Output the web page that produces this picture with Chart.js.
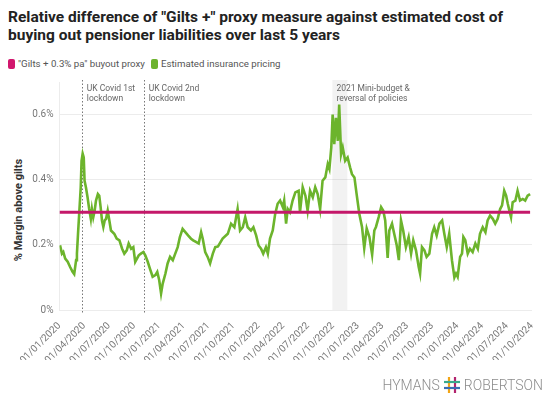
<!DOCTYPE html>
<html>
<head>
<meta charset="utf-8">
<script src="https://cdn.jsdelivr.net/npm/chart.js@4.4.1/dist/chart.umd.min.js"></script>
<style>
html,body{margin:0;padding:0;background:#fff;}
body{width:548px;height:397px;position:relative;overflow:hidden;font-family:Roboto,"Noto Sans",sans-serif;}
#title{position:absolute;left:8px;top:8px;width:515px;font-size:15.5px;font-weight:700;line-height:18px;color:#222;}
#legend{position:absolute;left:8px;top:58px;font-size:9.7px;color:#555;display:flex;align-items:center;white-space:nowrap;}
#legend .sw{display:inline-block;width:7px;height:10px;border-radius:2px;margin-right:3px;}
#legend .item{display:flex;align-items:center;margin-right:6px;}
#ytitle{position:absolute;left:18px;top:210px;transform:translate(-50%,-50%) rotate(-90deg);font-size:11px;font-weight:700;color:#333;white-space:nowrap;}
#wrap{position:absolute;left:0;top:70px;width:548px;height:327px;}
#logo{position:absolute;right:5px;top:376px;height:18px;display:flex;align-items:center;font-size:14px;font-weight:300;color:#8c8c8c;}
#logo svg{margin:0 4px;}
</style>
</head>
<body>
<div id="title">Relative difference of "Gilts +" proxy measure against estimated cost of buying out pensioner liabilities over last 5 years</div>
<div id="legend">
  <span class="item"><span class="sw" style="background:#d1176d"></span>"Gilts + 0.3% pa" buyout proxy</span>
  <span class="item"><span class="sw" style="background:#6db32e"></span>Estimated insurance pricing</span>
</div>
<div id="ytitle">% Margin above gilts</div>
<div id="wrap"><canvas id="chart"></canvas></div>
<div id="logo"><span>HYMANS</span><svg width="16" height="16" viewBox="0 0 16 16"><line x1="5" y1="0" x2="5" y2="16" stroke="#f2a516" stroke-width="2.2"/><line x1="11" y1="0" x2="11" y2="16" stroke="#b2236e" stroke-width="2.2"/><line x1="0" y1="5" x2="16" y2="5" stroke="#3aa98c" stroke-width="2.2"/><line x1="0" y1="11" x2="16" y2="11" stroke="#3b6db3" stroke-width="2.2"/></svg><span>ROBERTSON</span></div>
<script>
// ----- data -----
const pricingDates = [
  "2020-01-03","2020-01-10","2020-01-15","2020-01-22","2020-01-31","2020-02-09","2020-02-18","2020-02-24","2020-03-02","2020-03-05","2020-03-09","2020-03-14","2020-03-19","2020-03-22","2020-03-26","2020-03-30","2020-04-02","2020-04-07","2020-04-13","2020-04-19","2020-04-25","2020-04-29","2020-05-04","2020-05-09","2020-05-14","2020-05-21","2020-05-26","2020-05-31","2020-06-05","2020-06-10","2020-06-15","2020-06-20","2020-06-26","2020-07-02","2020-07-08","2020-07-20","2020-07-29","2020-08-08","2020-08-18","2020-08-26","2020-09-04","2020-09-11","2020-09-20","2020-09-28","2020-10-05","2020-10-18","2020-10-26","2020-11-04","2020-11-11","2020-11-20","2020-11-28","2020-12-08","2020-12-18","2020-12-25",
  "2021-01-01","2021-01-08","2021-01-14","2021-01-24","2021-02-01","2021-02-10","2021-02-20","2021-03-01","2021-03-10","2021-03-18","2021-03-28","2021-04-07","2021-04-17","2021-04-28","2021-05-06","2021-05-16","2021-05-26","2021-06-04","2021-06-10","2021-06-19","2021-06-28","2021-07-07","2021-07-17","2021-07-26","2021-08-05","2021-08-22","2021-09-10","2021-09-22","2021-10-04","2021-10-16","2021-10-25","2021-11-04","2021-11-13","2021-11-22","2021-12-04","2021-12-13","2021-12-23",
  "2022-01-01","2022-01-10","2022-01-18","2022-01-28","2022-02-04","2022-02-12","2022-02-22","2022-03-03","2022-03-12","2022-03-21","2022-03-31","2022-04-05","2022-04-12","2022-04-18","2022-04-26","2022-05-06","2022-05-16","2022-05-28","2022-06-02","2022-06-12","2022-06-22","2022-06-30","2022-07-09","2022-07-19","2022-07-28","2022-08-06","2022-08-15","2022-08-24","2022-09-03","2022-09-12","2022-09-18","2022-09-25","2022-09-30","2022-10-06","2022-10-12","2022-10-19","2022-10-24","2022-10-31","2022-11-06","2022-11-15","2022-11-24","2022-12-03","2022-12-10","2022-12-19","2022-12-27",
  "2023-01-06","2023-01-16","2023-01-24","2023-02-02","2023-02-12","2023-02-22","2023-03-02","2023-03-08","2023-03-18","2023-03-27","2023-04-04","2023-04-11","2023-04-20","2023-04-26","2023-05-06","2023-05-14","2023-05-23","2023-05-31","2023-06-08","2023-06-16","2023-06-26","2023-07-06","2023-07-15","2023-07-23","2023-08-02","2023-08-12","2023-08-17","2023-08-24","2023-09-02","2023-09-10","2023-09-20","2023-09-30","2023-10-08","2023-10-17","2023-10-27","2023-11-06","2023-11-14","2023-11-23","2023-12-02","2023-12-12","2023-12-21","2023-12-27",
  "2024-01-02","2024-01-11","2024-01-18","2024-01-23","2024-01-30","2024-02-08","2024-02-16","2024-02-26","2024-03-07","2024-03-16","2024-03-24","2024-04-03","2024-04-13","2024-04-21","2024-04-30","2024-05-10","2024-05-19","2024-05-28","2024-06-06","2024-06-13","2024-06-21","2024-06-28","2024-07-04","2024-07-10","2024-07-16","2024-07-22","2024-08-01","2024-08-09","2024-08-18","2024-08-28","2024-09-06","2024-09-15","2024-09-24"
];
const pricingValues = [
  0.199,0.173,0.178,0.158,0.148,0.132,0.117,0.110,0.153,0.173,0.234,0.305,0.377,0.458,0.480,0.468,0.397,0.377,0.346,0.310,0.280,0.310,0.285,0.305,0.336,0.356,0.351,0.316,0.275,0.255,0.275,0.280,0.305,0.275,0.244,0.234,0.219,0.214,0.188,0.173,0.183,0.204,0.188,0.193,0.148,0.168,0.173,0.178,0.168,0.148,0.127,0.102,0.107,0.117,
  0.092,0.051,0.081,0.112,0.143,0.163,0.153,0.173,0.193,0.224,0.249,0.239,0.229,0.219,0.214,0.209,0.204,0.239,0.219,0.178,0.163,0.143,0.173,0.193,0.195,0.219,0.234,0.265,0.254,0.310,0.244,0.254,0.285,0.254,0.244,0.254,0.229,
  0.198,0.188,0.173,0.193,0.173,0.219,0.244,0.295,0.326,0.336,0.316,0.336,0.265,0.310,0.300,0.336,0.361,0.366,0.300,0.377,0.351,0.305,0.366,0.346,0.377,0.356,0.310,0.397,0.407,0.448,0.433,0.499,0.600,0.509,0.590,0.519,0.631,0.478,0.499,0.458,0.468,0.438,0.417,0.407,0.356,
  0.295,0.254,0.190,0.250,0.224,0.170,0.244,0.255,0.285,0.316,0.305,0.275,0.160,0.244,0.265,0.234,0.200,0.153,0.275,0.244,0.193,0.224,0.173,0.214,0.183,0.132,0.112,0.193,0.183,0.163,0.173,0.234,0.254,0.229,0.265,0.275,0.234,0.193,0.234,0.153,0.100,0.112,
  0.102,0.163,0.173,0.224,0.214,0.173,0.188,0.178,0.204,0.188,0.234,0.254,0.239,0.275,0.290,0.280,0.265,0.280,0.310,0.321,0.366,0.351,0.326,0.305,0.285,0.331,0.336,0.366,0.336,0.341,0.336,0.351,0.356
];
const proxyDates = ["2020-01-01","2024-09-24"];
const proxyValues = [0.3, 0.3];

const xTickLabels = ["01/01/2020","01/04/2020","01/07/2020","01/10/2020","01/01/2021","01/04/2021","01/07/2021","01/10/2021","01/01/2022","01/04/2022","01/07/2022","01/10/2022","01/01/2023","01/04/2023","01/07/2023","01/10/2023","01/01/2024","01/04/2024","01/07/2024","01/10/2024"];
const yTicks = [0, 0.2, 0.4, 0.6];

const eventDates = ["2020-03-23","2020-11-05"];
const eventLabels = [["UK Covid 1st","lockdown"],["UK Covid 2nd","lockdown"]];
const bandRange = ["2022-09-29","2022-11-23"];
const bandLabel = ["2021 Mini-budget &","reversal of policies"];

// ----- helpers -----
const T0 = Date.UTC(2020,0,1);
function dayNum(s){ const [y,m,d]=s.split("-").map(Number); return (Date.UTC(y,m-1,d)-T0)/864e5; }
function fromLabel(l){ const [d,m,y]=l.split("/"); return `${y}-${m}-${d}`; }
const tickDays = xTickLabels.map(l=>dayNum(fromLabel(l)));

const eventsPlugin = {
  id: "events",
  beforeDatasetsDraw(chart){
    const {ctx, chartArea:a, scales:{x}} = chart;
    ctx.save();
    const b0 = x.getPixelForValue(dayNum(bandRange[0])), b1 = x.getPixelForValue(dayNum(bandRange[1]));
    ctx.fillStyle = "rgba(0,0,0,0.05)";
    ctx.fillRect(b0, a.top-2, b1-b0, a.bottom-a.top+2);
    ctx.strokeStyle = "#777"; ctx.lineWidth = 1; ctx.setLineDash([1.5,2]);
    eventDates.forEach(d=>{
      const px = Math.round(x.getPixelForValue(dayNum(d)))+0.5;
      ctx.beginPath(); ctx.moveTo(px, a.top-2); ctx.lineTo(px, a.bottom+3); ctx.stroke();
    });
    ctx.setLineDash([]);
    ctx.fillStyle = "#666"; ctx.font = "8.5px Roboto"; ctx.textBaseline = "middle"; ctx.textAlign = "left";
    eventDates.forEach((d,i)=>{
      const px = x.getPixelForValue(dayNum(d))+5;
      eventLabels[i].forEach((t,j)=> ctx.fillText(t, px, a.top+6.5+j*10));
    });
    bandLabel.forEach((t,j)=> ctx.fillText(t, b0+4, a.top+6.5+j*10));
    ctx.restore();
  }
};

new Chart(document.getElementById("chart"), {
  type: "line",
  data: {
    datasets: [
      { label: '"Gilts + 0.3% pa" buyout proxy', data: proxyDates.map((d,i)=>({x:dayNum(d), y:proxyValues[i]})),
        borderColor: "#c4186a", borderWidth: 3, pointRadius: 0, fill: false },
      { label: "Estimated insurance pricing", data: pricingDates.map((d,i)=>({x:dayNum(d), y:pricingValues[i]})),
        borderColor: "#6cb42c", borderWidth: 2.6, pointRadius: 0, fill: false, tension: 0 }
    ]
  },
  options: {
    responsive: true, maintainAspectRatio: false, animation: false,
    layout: { padding: { top: 10.6, right: 16, bottom: 37, left: 0 } },
    plugins: { legend: { display: false }, tooltip: { enabled: false } },
    scales: {
      x: {
        type: "linear", min: 0, max: dayNum("2024-10-01"),
        grid: { display: false },
        border: { display: false },
        afterBuildTicks: s=>{ s.ticks = tickDays.map(v=>({value:v})); },
        afterFit: s=>{ s.height = 50; },
        ticks: { autoSkip: false, maxRotation: 45, minRotation: 45, padding: 2, color: "#777",
          font: { family: "Roboto", size: 10 },
          callback: (v)=> xTickLabels[tickDays.indexOf(v)] }
      },
      y: {
        min: 0, max: 0.7,
        afterBuildTicks: s=>{ s.ticks = yTicks.map(v=>({value:v})); },
        afterFit: s=>{ s.width = 59.5; },
        grid: { color: "#ececec", drawTicks: false },
        border: { display: true, color: "#ececec" },
        ticks: { padding: 6, color: "#777", font: { family: "Roboto", size: 10 },
          callback: v=> v===0 ? "0%" : v.toFixed(1)+"%" }
      }
    }
  },
  plugins: [eventsPlugin]
});
</script>
</body>
</html>
